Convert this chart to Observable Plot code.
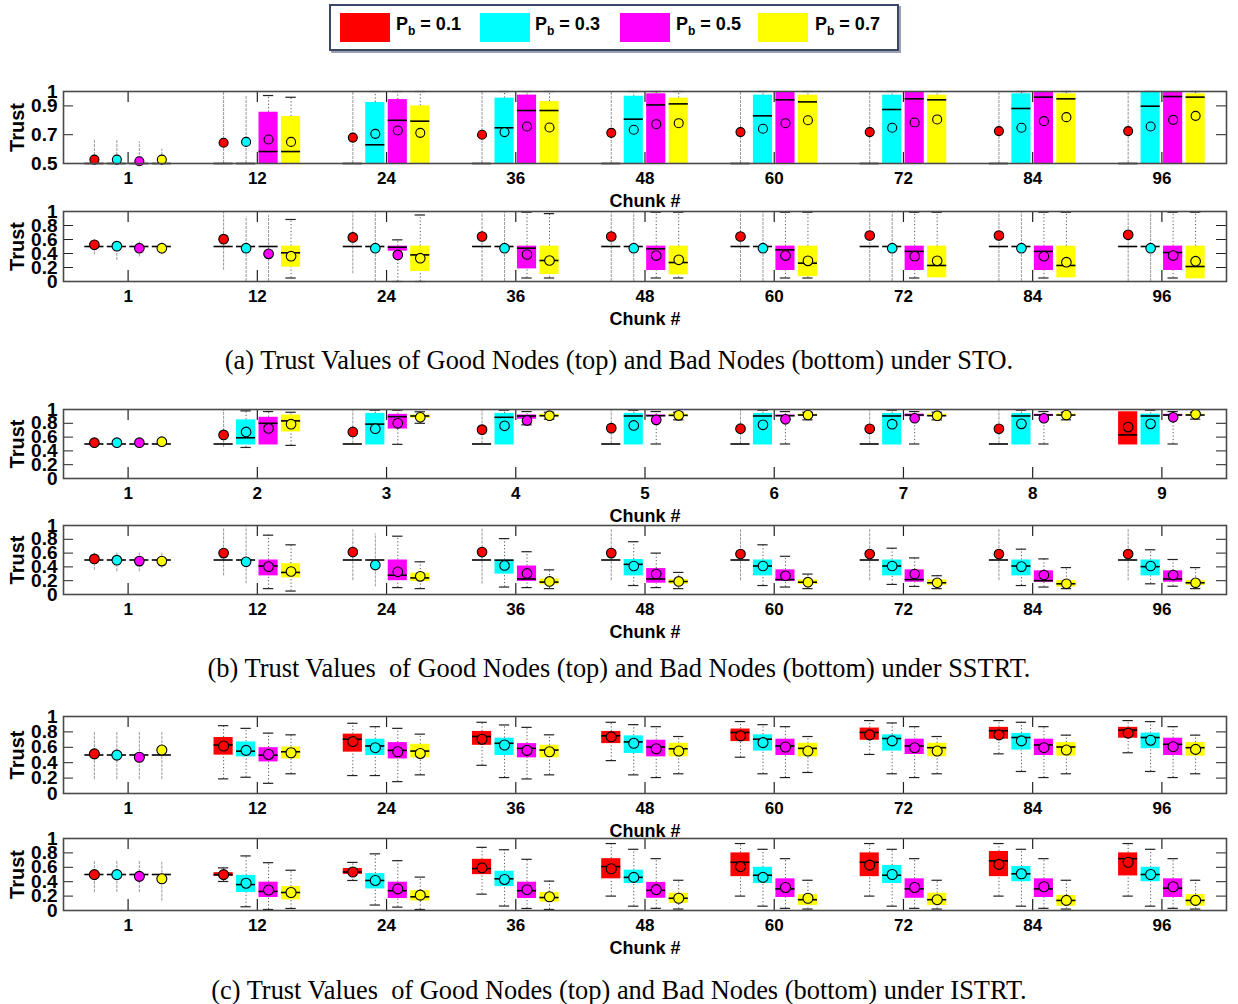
<!DOCTYPE html>
<html><head><meta charset="utf-8">
<script src="https://cdn.jsdelivr.net/npm/d3@7"></script>
<script src="https://cdn.jsdelivr.net/npm/@observablehq/plot@0.6"></script>
<style>
body{margin:0;background:#fff;}
#root{position:relative;width:1238px;height:1004px;overflow:hidden;background:#fff;}
.cap{position:absolute;left:0;width:1238px;text-align:center;font-family:"Liberation Serif","Times New Roman",serif;font-size:26.4px;line-height:26px;color:#000;white-space:pre;}
#legend{position:absolute;left:329px;top:4px;width:566px;height:43px;border:2px solid #3c4668;box-shadow:2px 2px 0 #9aa0b0;background:#fff;}
.sw{position:absolute;top:7px;width:50px;height:29px;}
.lt{position:absolute;top:8px;font-family:"Liberation Sans",Arial,sans-serif;font-weight:bold;font-size:18px;white-space:nowrap;}
.lt sub{font-size:12px;vertical-align:-5px;}
</style></head><body><div id="root"></div><script>
// ---------- shared ----------
const seriesLabels = ["0.1", "0.3", "0.5", "0.7"];
const seriesColors = ["#ff0000", "#00ffff", "#ff00ff", "#ffff00"];
const chunkLabels = ["1", "12", "24", "36", "48", "60", "72", "84", "96"];
const sstrtGoodLabels = ["1", "2", "3", "4", "5", "6", "7", "8", "9"];
const trustTicks = [0, 0.2, 0.4, 0.6, 0.8, 1];
const stoGoodTicks = [0.5, 0.7, 0.9, 1];
const captions = [
  "(a) Trust Values of Good Nodes (top) and Bad Nodes (bottom) under STO.",
  "(b) Trust Values  of Good Nodes (top) and Bad Nodes (bottom) under SSTRT.",
  "(c) Trust Values  of Good Nodes (top) and Bad Nodes (bottom) under ISTRT."
];
// each row: one chunk, values for Pb = 0.1, 0.3, 0.5, 0.7

// ---------- (a) STO, good nodes ----------
const stoGoodQ1 = [[.5,.5,.5,.5],[.5,.5,.5,.5],[.5,.5,.5,.5],[.5,.5,.5,.5],[.5,.5,.5,.5],[.5,.5,.5,.5],[.5,.5,.5,.5],[.5,.5,.5,.5],[.5,.5,.5,.5]];
const stoGoodMed = [[.5,.5,.5,.5],[.5,.5,.583,.583],[.5,.63,.80,.794],[.5,.748,.868,.868],[.5,.808,.907,.914],[.5,.831,.942,.928],[.5,.875,.949,.942],[.5,.882,.961,.949],[.5,.898,.965,.961]];
const stoGoodQ3 = [[.5,.5,.5,.5],[.5,.5,.856,.826],[.5,.924,.944,.90],[.5,.954,.975,.93],[.5,.967,.984,.954],[.5,.975,1,.975],[.5,.975,1,.975],[.5,.984,1,.984],[.5,.995,1,.984]];
const stoGoodMean = [[.527,.527,.516,.527],[.644,.65,.667,.65],[.68,.706,.729,.713],[.70,.718,.757,.75],[.713,.734,.773,.78],[.718,.741,.78,.80],[.718,.748,.785,.806],[.725,.748,.794,.822],[.725,.757,.803,.831]];
const stoGoodLo = [[.5,.5,.5,.5],[.5,.5,.5,.5],[.5,.5,.5,.5],[.5,.5,.5,.5],[.5,.5,.5,.5],[.5,.5,.5,.5],[.5,.5,.5,.5],[.5,.5,.5,.5],[.5,.5,.5,.5]];
const stoGoodHi = [[.66,.66,.65,.60],[1,.97,.972,.96],[1,1,1,1],[1,1,1,1],[1,1,1,1],[1,1,1,1],[1,1,1,1],[1,1,1,1],[1,1,1,1]];

// ---------- (a) STO, bad nodes ----------
const stoBadQ1 = [[.5,.5,.5,.5],[.5,.5,.5,.205],[.5,.5,.433,.143],[.5,.5,.18,.10],[.5,.5,.157,.095],[.5,.5,.157,.07],[.5,.5,.157,.052],[.5,.5,.157,.052],[.5,.5,.157,.038]];
const stoBadMed = [[.5,.5,.5,.5],[.5,.5,.5,.41],[.5,.5,.49,.38],[.5,.5,.476,.30],[.5,.5,.467,.271],[.5,.5,.452,.262],[.5,.5,.43,.229],[.5,.5,.43,.229],[.5,.5,.414,.214]];
const stoBadQ3 = [[.5,.5,.5,.5],[.5,.5,.5,.505],[.5,.5,.505,.505],[.5,.5,.505,.505],[.5,.5,.505,.505],[.5,.5,.505,.505],[.5,.5,.505,.505],[.5,.5,.505,.505],[.5,.5,.505,.505]];
const stoBadMean = [[.524,.505,.476,.476],[.605,.476,.395,.362],[.63,.476,.38,.333],[.643,.476,.386,.30],[.643,.476,.371,.31],[.643,.476,.371,.295],[.657,.476,.362,.295],[.657,.476,.362,.276],[.667,.476,.371,.29]];
const stoBadLo = [[.38,.30,.35,.38],[.16,0,0,.05],[.11,0,0,0],[0,0,.05,.05],[0,0,.05,.05],[0,0,.05,.05],[0,0,.05,.05],[0,0,.05,.05],[0,0,.05,.05]];
const stoBadHi = [[.60,.58,.57,.56],[.99,.92,.94,.886],[.99,.99,.595,.95],[.99,.99,.99,.97],[.99,.99,.99,.99],[.99,.99,.99,.99],[.99,.99,.99,.99],[.99,.99,.99,.99],[.99,.99,.99,.99]];

// ---------- (b) SSTRT, good nodes ----------
const sstrtGoodQ1 = [[.5,.5,.5,.5],[.5,.486,.486,.675],[.5,.486,.717,.873],[.5,.486,.858,.89],[.5,.486,.896,.896],[.5,.486,.896,.906],[.5,.486,.896,.906],[.5,.486,.906,.906],[.486,.486,.906,.915]];
const sstrtGoodMed = [[.5,.5,.5,.5],[.5,.59,.80,.835],[.5,.788,.896,.906],[.5,.887,.906,.91],[.5,.906,.91,.915],[.5,.906,.91,.92],[.5,.906,.92,.91],[.5,.906,.92,.92],[.632,.906,.92,.92]];
const sstrtGoodQ3 = [[.5,.5,.5,.5],[.5,.85,.887,.92],[.5,.943,.93,.92],[.5,.943,.92,.934],[.5,.943,.92,.934],[.5,.943,.92,.934],[.5,.943,.934,.934],[.5,.943,.93,.934],[.967,.934,.93,.934]];
const sstrtGoodMean = [[.519,.519,.519,.533],[.632,.675,.726,.788],[.675,.722,.80,.887],[.708,.764,.84,.91],[.73,.769,.85,.915],[.722,.778,.858,.92],[.72,.788,.873,.91],[.72,.792,.873,.92],[.745,.792,.887,.93]];
const sstrtGoodLo = [[.45,.45,.45,.45],[.45,.45,.486,.48],[.5,.486,.495,.80],[.5,.486,.778,.86],[.5,.486,.5,.85],[.5,.486,.5,.85],[.5,.486,.5,.85],[.5,.486,.5,.85],[.486,.486,.5,.86]];
const sstrtGoodHi = [[.56,.55,.57,.58],[.99,.98,.97,.96],[.99,.99,.99,.967],[.99,.99,.97,.96],[.99,.99,.97,.96],[.99,.99,.97,.96],[.99,.99,.97,.96],[.99,.99,.97,.96],[.967,.99,.97,.96]];

// ---------- (b) SSTRT, bad nodes ----------
const sstrtBadQ1 = [[.5,.5,.5,.5],[.5,.5,.27,.24],[.5,.5,.20,.19],[.5,.296,.19,.14],[.5,.27,.164,.15],[.5,.27,.19,.146],[.5,.27,.178,.132],[.5,.27,.178,.108],[.5,.27,.178,.132]];
const sstrtBadMed = [[.5,.5,.5,.5],[.5,.5,.413,.32],[.5,.5,.28,.24],[.5,.498,.225,.18],[.5,.437,.225,.188],[.5,.413,.216,.178],[.5,.413,.216,.17],[.5,.413,.20,.155],[.5,.404,.225,.17]];
const sstrtBadQ3 = [[.5,.5,.5,.5],[.5,.5,.5,.446],[.5,.5,.5,.31],[.5,.498,.413,.225],[.5,.507,.376,.216],[.5,.5,.357,.211],[.5,.5,.357,.211],[.5,.5,.343,.202],[.5,.5,.343,.202]];
const sstrtBadMean = [[.516,.498,.484,.484],[.60,.474,.404,.333],[.615,.427,.329,.263],[.615,.42,.305,.19],[.60,.413,.296,.19],[.587,.413,.272,.178],[.587,.413,.296,.17],[.587,.404,.282,.155],[.587,.413,.282,.17]];
const sstrtBadLo = [[.35,.33,.33,.38],[.27,.155,.085,.05],[.20,.11,.10,.085],[.15,.108,.10,.085],[.20,.13,.10,.085],[.20,.13,.108,.085],[.20,.146,.117,.085],[.20,.13,.108,.085],[.20,.155,.12,.085]];
const sstrtBadHi = [[.60,.60,.60,.60],[.95,.98,.86,.72],[.95,.88,.845,.474],[.95,.81,.62,.357],[.95,.765,.60,.32],[.95,.72,.554,.296],[.95,.671,.53,.272],[.95,.657,.516,.39],[.95,.648,.507,.39]];

// ---------- (c) ISTRT, good nodes ----------
const istrtGoodQ1 = [[.5,.5,.5,.5],[.498,.476,.41,.449],[.537,.493,.449,.463],[.626,.493,.463,.463],[.648,.52,.476,.476],[.674,.551,.493,.476],[.692,.551,.507,.476],[.705,.564,.493,.485],[.718,.581,.493,.485]];
const istrtGoodMed = [[.5,.5,.5,.5],[.63,.55,.498,.542],[.705,.617,.56,.551],[.74,.652,.586,.564],[.749,.67,.604,.581],[.793,.705,.617,.586],[.793,.714,.617,.595],[.815,.727,.63,.604],[.824,.727,.639,.595]];
const istrtGoodQ3 = [[.5,.5,.5,.5],[.727,.67,.595,.604],[.771,.705,.661,.639],[.806,.718,.648,.626],[.806,.749,.692,.652],[.837,.762,.705,.652],[.85,.762,.705,.652],[.859,.78,.705,.661],[.859,.784,.718,.661]];
const istrtGoodMean = [[.515,.498,.471,.564],[.617,.56,.507,.529],[.674,.595,.542,.52],[.705,.63,.56,.542],[.736,.652,.581,.551],[.749,.661,.604,.551],[.762,.683,.595,.551],[.762,.683,.595,.564],[.784,.692,.608,.573]];
const istrtGoodLo = [[.18,.18,.18,.18],[.19,.211,.132,.256],[.233,.233,.154,.242],[.366,.207,.189,.242],[.427,.242,.207,.256],[.471,.256,.207,.273],[.507,.256,.207,.256],[.515,.286,.207,.256],[.529,.286,.207,.256]];
const istrtGoodHi = [[.79,.79,.79,.79],[.881,.846,.784,.762],[.912,.868,.846,.771],[.925,.89,.859,.762],[.925,.894,.868,.74],[.934,.894,.868,.74],[.947,.916,.868,.74],[.947,.925,.868,.758],[.947,.934,.868,.758]];

// ---------- (c) ISTRT, bad nodes ----------
const istrtBadQ1 = [[.5,.5,.5,.5],[.474,.25,.18,.147],[.502,.30,.166,.133],[.498,.332,.166,.118],[.44,.375,.17,.10],[.47,.375,.18,.07],[.47,.375,.17,.07],[.47,.40,.18,.06],[.48,.40,.18,.06]];
const istrtBadMed = [[.5,.5,.5,.5],[.498,.36,.265,.25],[.535,.417,.275,.19],[.583,.44,.275,.18],[.61,.46,.28,.17],[.67,.49,.30,.15],[.67,.49,.30,.15],[.69,.51,.30,.14],[.72,.50,.31,.14]];
const istrtBadQ3 = [[.5,.5,.5,.5],[.526,.488,.393,.332],[.583,.512,.393,.275],[.711,.545,.393,.251],[.72,.56,.39,.24],[.80,.60,.44,.22],[.80,.625,.44,.24],[.82,.61,.44,.21],[.80,.60,.44,.22]];
const istrtBadMean = [[.498,.498,.474,.44],[.498,.379,.284,.25],[.535,.417,.30,.213],[.592,.431,.289,.19],[.58,.46,.29,.17],[.61,.46,.32,.17],[.63,.50,.32,.15],[.64,.51,.33,.14],[.67,.50,.33,.14]];
const istrtBadLo = [[.25,.25,.25,.13],[.403,.052,.014,.028],[.417,.076,.047,.014],[.227,.062,.028,.014],[.20,.06,.03,.02],[.20,.06,.03,.02],[.20,.06,.03,.02],[.20,.06,.03,.02],[.20,.06,.03,.02]];
const istrtBadHi = [[.68,.68,.68,.68],[.592,.758,.664,.559],[.668,.787,.692,.464],[.877,.844,.711,.408],[.93,.85,.72,.42],[.93,.85,.72,.42],[.93,.85,.72,.42],[.93,.85,.72,.42],[.93,.85,.72,.42]];

// ---------- drawing ----------
const root = document.getElementById("root");
const FONT = '"Liberation Sans Narrow","Arial Narrow","Liberation Sans",Arial,sans-serif';
const ML = 63, MR = 12, W = 1238;
const OFF = 0.174, HW = 0.074, CAP = 0.04;

function panel(top, frameH, labels, yDomain, yTicks, yInner, q1, med, q3, mean, lo, hi, r) {
  const rows = [];
  labels.forEach((_, g) => {
    for (let s = 0; s < 4; s++) {
      rows.push({g, s, x: g + (s - 1.5) * OFF, q1: q1[g][s], med: med[g][s], q3: q3[g][s], mean: mean[g][s], lo: lo[g][s], hi: hi[g][s], fill: seriesColors[s]});
    }
  });
  const degen = rows.filter(d => d.q3 - d.q1 < 1e-6);
  const box = rows.filter(d => d.q3 - d.q1 >= 1e-6);
  const mt = 10, mb = 50;
  const idx = labels.map((_, i) => i);
  const fw = W - ML - MR;
  const svg = Plot.plot({
    width: W, height: mt + frameH + mb,
    marginTop: mt, marginBottom: mb, marginLeft: ML, marginRight: MR,
    x: {domain: [-0.5, labels.length - 0.5], axis: null},
    y: {domain: yDomain, axis: null},
    color: {type: "identity"},
    style: {fontFamily: FONT, fontWeight: "bold", color: "#000", background: "none", overflow: "visible"},
    marks: [
      Plot.ruleX(idx, {x: d => d, insetBottom: frameH - 11, stroke: "#222", strokeWidth: 1.2}),
      Plot.ruleX(idx, {x: d => d, insetTop: frameH - 11, stroke: "#222", strokeWidth: 1.2}),
      Plot.ruleY(yInner, {y: d => d, insetRight: fw - 10, stroke: "#222"}),
      Plot.ruleY(yInner, {y: d => d, insetLeft: fw - 10, stroke: "#222"}),
      Plot.ruleX(degen, {x: "x", y1: "lo", y2: "hi", stroke: "#9a9a9a", strokeWidth: 1, strokeDasharray: "3,1"}),
      Plot.ruleX(box.filter(d => d.hi > d.q3), {x: "x", y1: "q3", y2: "hi", stroke: "#555", strokeDasharray: "1.2,2.2"}),
      Plot.ruleX(box.filter(d => d.lo < d.q1), {x: "x", y1: "lo", y2: "q1", stroke: "#555", strokeDasharray: "1.2,2.2"}),
      Plot.ruleY(box.filter(d => d.hi > d.q3 + 0.004), {y: "hi", x1: d => d.x - CAP, x2: d => d.x + CAP, stroke: "#222", strokeWidth: 1.2}),
      Plot.ruleY(box.filter(d => d.lo < d.q1 - 0.004), {y: "lo", x1: d => d.x - CAP, x2: d => d.x + CAP, stroke: "#222", strokeWidth: 1.2}),
      Plot.rect(box, {x1: d => d.x - HW, x2: d => d.x + HW, y1: "q1", y2: "q3", fill: "fill"}),
      Plot.ruleY(rows, {y: "med", x1: d => d.x - HW, x2: d => d.x + HW, stroke: "#000", strokeWidth: 1.6}),
      Plot.dot(rows, {x: "x", y: "mean", r, fill: "fill", stroke: "#000", strokeWidth: 1.1}),
      Plot.frame({stroke: "#4a4a4a", strokeWidth: 1.6}),
      Plot.axisY(yTicks, {tickSize: 0, tickPadding: 6, fontSize: 19, label: null, tickFormat: d => String(d)}),
      Plot.axisX(idx, {tickSize: 0, tickPadding: 8, fontSize: 17, label: null, tickFormat: i => labels[i]}),
      Plot.text(["Trust"], {frameAnchor: "left", dx: -46, rotate: -90, textAnchor: "middle", lineAnchor: "middle", fontSize: 20, fontWeight: "bold"}),
      Plot.text(["Chunk #"], {frameAnchor: "bottom", dy: 38, textAnchor: "middle", lineAnchor: "middle", fontSize: 18, fontWeight: "bold"})
    ]
  });
  svg.style.position = "absolute";
  svg.style.left = "0px";
  svg.style.top = (top - mt) + "px";
  root.appendChild(svg);
}

const inner = [0.2, 0.4, 0.6, 0.8];
panel(91, 72, chunkLabels, [0.5, 1], stoGoodTicks, [0.7, 0.9], stoGoodQ1, stoGoodMed, stoGoodQ3, stoGoodMean, stoGoodLo, stoGoodHi, 4.5);
panel(211, 70, chunkLabels, [0, 1], trustTicks, inner, stoBadQ1, stoBadMed, stoBadQ3, stoBadMean, stoBadLo, stoBadHi, 4.8);
panel(409, 69, sstrtGoodLabels, [0, 1], trustTicks, inner, sstrtGoodQ1, sstrtGoodMed, sstrtGoodQ3, sstrtGoodMean, sstrtGoodLo, sstrtGoodHi, 4.8);
panel(525, 69, chunkLabels, [0, 1], trustTicks, inner, sstrtBadQ1, sstrtBadMed, sstrtBadQ3, sstrtBadMean, sstrtBadLo, sstrtBadHi, 4.8);
panel(716, 77, chunkLabels, [0, 1], trustTicks, inner, istrtGoodQ1, istrtGoodMed, istrtGoodQ3, istrtGoodMean, istrtGoodLo, istrtGoodHi, 5);
panel(838, 72, chunkLabels, [0, 1], trustTicks, inner, istrtBadQ1, istrtBadMed, istrtBadQ3, istrtBadMean, istrtBadLo, istrtBadHi, 5);

// captions
[347, 655, 977].forEach((t, i) => {
  const d = document.createElement("div");
  d.className = "cap";
  d.style.top = t + "px";
  d.textContent = captions[i];
  root.appendChild(d);
});

// legend
const lg = document.createElement("div");
lg.id = "legend";
const swX = [9, 149, 289, 427];
const txX = [65, 204, 345, 484];
seriesLabels.forEach((v, i) => {
  const s = document.createElement("div");
  s.className = "sw"; s.style.left = swX[i] + "px"; s.style.background = seriesColors[i];
  lg.appendChild(s);
  const t = document.createElement("div");
  t.className = "lt"; t.style.left = txX[i] + "px";
  t.innerHTML = "P<sub>b</sub> = " + v;
  lg.appendChild(t);
});
root.appendChild(lg);
</script></body></html>
